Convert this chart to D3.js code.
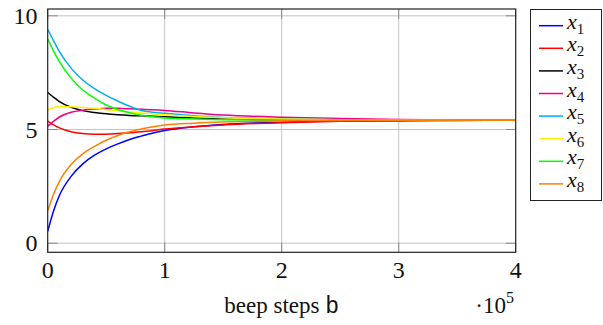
<!DOCTYPE html>
<html>
<head>
<meta charset="utf-8">
<script src="https://cdn.jsdelivr.net/npm/d3@7"></script>
<style>
  body { margin: 0; background: #fff; }
  svg { display: block; }
  text { font-family: "Liberation Serif", "DejaVu Serif", serif; fill: #111; }
  .mono { font-family: "Liberation Mono", "DejaVu Sans Mono", monospace; }
</style>
</head>
<body>
<div id="chart"></div>
<script>

// beep steps, in units of 10^5
var steps = [0, 0.05, 0.1, 0.2, 0.3, 0.4, 0.5, 0.6, 0.7, 0.8, 0.9, 1.0, 1.25, 1.5, 2, 2.5, 3, 3.5, 4];

var x1 = [0.52, 1.42, 2.10, 2.94, 3.49, 3.87, 4.15, 4.37, 4.56, 4.71, 4.85, 4.96, 5.12, 5.22, 5.32, 5.37, 5.39, 5.40, 5.41];
var x2 = [5.37, 5.20, 5.07, 4.90, 4.82, 4.79, 4.79, 4.82, 4.86, 4.90, 4.96, 5.02, 5.12, 5.20, 5.30, 5.36, 5.39, 5.41, 5.41];
var x3 = [6.63, 6.42, 6.23, 5.98, 5.83, 5.75, 5.69, 5.65, 5.62, 5.60, 5.58, 5.56, 5.51, 5.47, 5.43, 5.42, 5.41, 5.41, 5.41];
var x4 = [5.15, 5.36, 5.55, 5.76, 5.85, 5.90, 5.93, 5.93, 5.91, 5.89, 5.87, 5.84, 5.73, 5.64, 5.54, 5.48, 5.44, 5.42, 5.41];
var x5 = [9.41, 8.90, 8.43, 7.70, 7.18, 6.80, 6.50, 6.25, 6.02, 5.84, 5.76, 5.71, 5.60, 5.53, 5.46, 5.43, 5.42, 5.41, 5.41];
var x6 = [5.86, 5.96, 6.01, 6.00, 5.97, 5.93, 5.87, 5.82, 5.77, 5.73, 5.69, 5.65, 5.57, 5.52, 5.46, 5.43, 5.42, 5.41, 5.41];
var x7 = [8.99, 8.45, 7.99, 7.26, 6.74, 6.38, 6.08, 5.88, 5.74, 5.63, 5.56, 5.51, 5.46, 5.43, 5.41, 5.41, 5.41, 5.41, 5.41];
var x8 = [1.43, 2.15, 2.72, 3.46, 3.93, 4.26, 4.53, 4.74, 4.90, 5.02, 5.12, 5.20, 5.28, 5.33, 5.38, 5.40, 5.41, 5.41, 5.41];

var seriesNames = ["1", "2", "3", "4", "5", "6", "7", "8"];
var seriesValues = [x1, x2, x3, x4, x5, x6, x7, x8];
var seriesColors = ["#0000ff", "#ff0000", "#000000", "#ec008c", "#00aeef", "#fff200", "#00ff00", "#ff8000"];

var xTicks = [0, 1, 2, 3, 4];
var yTicks = [0, 5, 10];


var width = 603, height = 325;
var plotLeft = 47.7, plotRight = 515.7, plotTop = 9, plotBottom = 252.3;

var svg = d3.select("#chart").append("svg")
    .attr("width", width)
    .attr("height", height);

var xScale = d3.scaleLinear().domain([0, 4]).range([plotLeft, plotRight]);
var yScale = d3.scaleLinear().domain([-0.4, 10.3]).range([plotBottom, plotTop]);

// grid
svg.append("g").selectAll("line")
    .data(xTicks.slice(1, -1))
    .enter()
    .append("line")
    .attr("x1", function(d) { return xScale(d); })
    .attr("x2", function(d) { return xScale(d); })
    .attr("y1", plotTop)
    .attr("y2", plotBottom)
    .attr("stroke", "#c4c4c4")
    .attr("stroke-width", 1);

svg.append("g").selectAll("line")
    .data(yTicks)
    .enter()
    .append("line")
    .attr("x1", plotLeft)
    .attr("x2", plotRight)
    .attr("y1", function(d) { return yScale(d); })
    .attr("y2", function(d) { return yScale(d); })
    .attr("stroke", "#c4c4c4")
    .attr("stroke-width", 1);

// inner ticks on all four sides
var tickLen = 10;
var tickGroup = svg.append("g").attr("stroke", "#8a8a8a").attr("stroke-width", 1);
xTicks.forEach(function(d) {
    tickGroup.append("line")
        .attr("x1", xScale(d)).attr("x2", xScale(d))
        .attr("y1", plotBottom).attr("y2", plotBottom - tickLen);
    tickGroup.append("line")
        .attr("x1", xScale(d)).attr("x2", xScale(d))
        .attr("y1", plotTop).attr("y2", plotTop + tickLen);
});
yTicks.forEach(function(d) {
    tickGroup.append("line")
        .attr("x1", plotLeft).attr("x2", plotLeft + tickLen)
        .attr("y1", yScale(d)).attr("y2", yScale(d));
    tickGroup.append("line")
        .attr("x1", plotRight).attr("x2", plotRight - tickLen)
        .attr("y1", yScale(d)).attr("y2", yScale(d));
});

// curves
svg.append("clipPath")
    .attr("id", "plotClip")
    .append("rect")
    .attr("x", plotLeft).attr("y", plotTop)
    .attr("width", plotRight - plotLeft).attr("height", plotBottom - plotTop);

var line = d3.line()
    .x(function(d, i) { return xScale(steps[i]); })
    .y(function(d) { return yScale(d); })
    .curve(d3.curveMonotoneX);

svg.append("g")
    .attr("clip-path", "url(#plotClip)")
    .selectAll("path")
    .data(seriesValues)
    .enter()
    .append("path")
    .attr("d", function(d) { return line(d); })
    .attr("fill", "none")
    .attr("stroke", function(d, i) { return seriesColors[i]; })
    .attr("stroke-width", 1.5);

// frame
svg.append("rect")
    .attr("x", plotLeft).attr("y", plotTop)
    .attr("width", plotRight - plotLeft).attr("height", plotBottom - plotTop)
    .attr("fill", "none")
    .attr("stroke", "#222")
    .attr("stroke-width", 1.2);

// tick labels
svg.append("g").selectAll("text")
    .data(xTicks)
    .enter()
    .append("text")
    .attr("x", function(d) { return xScale(d); })
    .attr("y", 277.5)
    .attr("text-anchor", "middle")
    .style("font-size", "24px")
    .text(function(d) { return d; });

svg.append("g").selectAll("text")
    .data(yTicks)
    .enter()
    .append("text")
    .attr("x", 37.5)
    .attr("y", function(d) { return yScale(d) + 8; })
    .attr("text-anchor", "end")
    .style("font-size", "24px")
    .text(function(d) { return d; });

// x label
var xl = svg.append("text")
    .attr("x", (plotLeft + plotRight) / 2)
    .attr("y", 313)
    .attr("text-anchor", "middle")
    .style("font-size", "23px");
xl.append("tspan").text("beep steps ");
xl.append("tspan").attr("class", "mono").text("b");

// scale factor
var sf = svg.append("text")
    .attr("x", 514)
    .attr("y", 313)
    .attr("text-anchor", "end")
    .style("font-size", "23px");
sf.append("tspan").text("\u00b710");
sf.append("tspan").attr("dy", -10).style("font-size", "16px").text("5");

// legend
var legend = svg.append("g");
legend.append("rect")
    .attr("x", 530.5).attr("y", 9.5)
    .attr("width", 71).attr("height", 191)
    .attr("fill", "#fff")
    .attr("stroke", "#222")
    .attr("stroke-width", 1);

var items = legend.selectAll("g")
    .data(seriesNames)
    .enter()
    .append("g")
    .attr("transform", function(d, i) { return "translate(0," + (25.7 + i * 22.6) + ")"; });

items.append("line")
    .attr("x1", 539).attr("x2", 563)
    .attr("y1", 0).attr("y2", 0)
    .attr("stroke", function(d, i) { return seriesColors[i]; })
    .attr("stroke-width", 1.5);

var lab = items.append("text")
    .attr("x", 567)
    .attr("y", 3)
    .style("font-size", "22px");
lab.append("tspan").style("font-style", "italic").text("x");
lab.append("tspan").attr("dy", 5).style("font-size", "15px").text(function(d) { return d; });

</script>
</body>
</html>
